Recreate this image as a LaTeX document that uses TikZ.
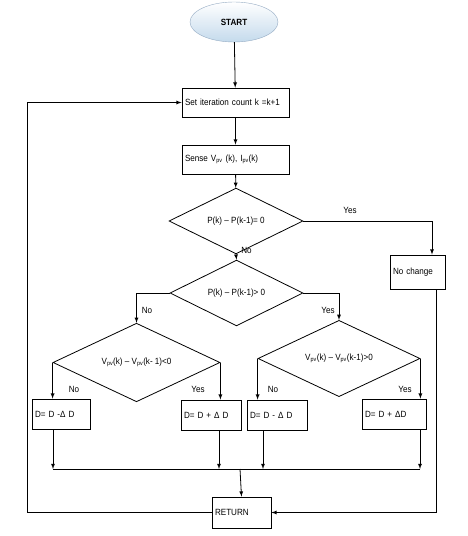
\documentclass[tikz,border=0pt]{standalone}
\usepackage{fontspec}
\setmainfont[FakeStretch=0.9]{Liberation Sans}
\usetikzlibrary{shapes.geometric}

\definecolor{startfill}{RGB}{196,218,236}
\definecolor{startline}{RGB}{150,172,196}

\tikzset{
  box/.style={draw, thick, rectangle, inner sep=3pt, align=left, font=\fontsize{9}{10}\selectfont},
  test/.style={draw, thick, diamond, inner sep=0pt, font=\fontsize{9}{10}\selectfont},
  flow/.style={thick, -latex},
  lbl/.style={font=\fontsize{9}{10}\selectfont}
}

\begin{document}
\begin{tikzpicture}[x=1pt, y=-1pt]
  \useasboundingbox (0,0) rectangle (468,536);

  \node [ellipse, draw=startline, top color=white, bottom color=startfill, minimum width=88pt, minimum height=40pt, font=\fontsize{9}{10}\selectfont\bfseries] (start) at (234,22) {START};
  \node [box, minimum width=107pt, minimum height=29pt, text width=101pt] (count) at (235.5,102.5) {Set iteration count k =k+1};
  \node [box, minimum width=107pt, minimum height=29pt, text width=101pt] (sense) at (235.5,159.5) {Sense V\textsubscript{pv} (k), I\textsubscript{pv}(k)};
  \node [test, minimum width=134pt, minimum height=41pt] (same) at (236,221) {P(k) – P(k-1)= 0};
  \node [box, minimum width=55pt, minimum height=34pt, text width=49pt] (nochange) at (417.5,272) {No change};
  \node [test, minimum width=133pt, minimum height=42pt] (rise) at (236.5,293) {P(k) – P(k-1)> 0};
  \node [test, minimum width=167pt, minimum height=41pt] (vdown) at (136.5,362.5) {V\textsubscript{pv}(k) – V\textsubscript{pv}(k- 1)<0};
  \node [test, minimum width=162pt, minimum height=43pt] (vup) at (339,358.5) {V\textsubscript{pv}(k) – V\textsubscript{pv}(k-1)>0};

  \node [box, minimum width=58pt, minimum height=30pt, text width=52pt] (dec1) at (61,414) {D= D -Δ D};
  \node [box, minimum width=60pt, minimum height=30pt, text width=54pt] (inc1) at (211,415) {D= D + Δ D};
  \node [box, minimum width=60pt, minimum height=30pt, text width=54pt] (dec2) at (277,415) {D= D - Δ D};
  \node [box, minimum width=64pt, minimum height=30pt, text width=58pt] (inc2) at (394,414) {D= D + ΔD};
  \node [box, minimum width=59pt, minimum height=31pt, text width=53pt] (ret) at (241.5,512.5) {RETURN};

  % merge line
  \coordinate (m1) at (53,469);
  \coordinate (m2) at (219,469);
  \coordinate (m3) at (263,469);
  \coordinate (m4) at (420,469);
  \coordinate (mid) at (240,469);

  \draw [flow] (start) -- (count);
  \draw [flow] (count) -- (sense);
  \draw [flow] (sense) -- (same);
  \draw [flow] (same.east) -| ([xshift=14.5pt]nochange.north);
  \draw [flow] (same.south) -- (rise.north);
  \draw [flow] (rise.west) -| (vdown.north);
  \draw [flow] (rise.east) -| (vup.north);
  \draw [flow] (vdown.west) -- (vdown.west |- dec1.north);
  \draw [flow] (vdown.east) -- (vdown.east |- inc1.north);
  \draw [flow] (vup.west) -- (vup.west |- dec2.north);
  \draw [flow] (vup.east) -- (vup.east |- inc2.north);

  \draw [flow] (m1 |- dec1.south) -- (m1);
  \draw [flow] (m2 |- inc1.south) -- (m2);
  \draw [flow] (m3 |- dec2.south) -- (m3);
  \draw [flow] (m4 |- inc2.south) -- (m4);
  \draw [thick] (m1) -- (m4);
  \draw [flow] (mid) -- (ret.north);

  % loops back
  \draw [flow] (ret.west) -- (27,512.5) |- (count.west);
  \draw [flow] ([xshift=18.5pt]nochange.south) -- (436,512.5) -- (ret.east);

  % branch labels
  \node [lbl] (l1) at (350,210) {Yes};
  \node [lbl] (l2) at (246.5,250) {No};
  \node [lbl] (l3) at (147,310) {No};
  \node [lbl] (l4) at (328,310) {Yes};
  \node [lbl] (l5) at (74,389) {No};
  \node [lbl] (l6) at (198,389) {Yes};
  \node [lbl] (l7) at (273,389) {No};
  \node [lbl] (l8) at (405,389) {Yes};
\end{tikzpicture}
\end{document}
